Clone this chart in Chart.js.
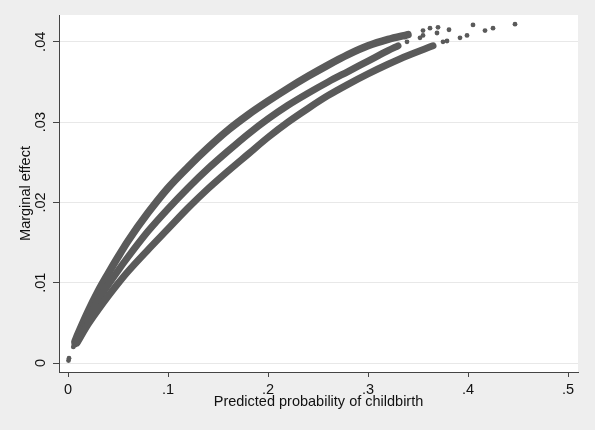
<!DOCTYPE html>
<html lang="en">
<head>
  <meta charset="UTF-8">
  <title>Marginal effect</title>
  <script src="https://cdn.jsdelivr.net/npm/chart.js"></script>
  <style>
    html, body { margin: 0; padding: 0; background: #eeeeee; }
    #wrap { width: 595px; height: 430px; }
  </style>
</head>
<body>
  <div id="wrap"><canvas id="meChart" width="595" height="430"></canvas></div>

  <script>
    // values
    const topX = [0.007, 0.01, 0.02, 0.03, 0.04, 0.05, 0.06, 0.08, 0.10, 0.12, 0.14, 0.16, 0.18, 0.20, 0.22, 0.24, 0.26, 0.28, 0.30, 0.32, 0.34];
    const topY = [0.0027, 0.0036, 0.0064, 0.0089, 0.0111, 0.0132, 0.0152, 0.0187, 0.0218, 0.0244, 0.0268, 0.0290, 0.0309, 0.0326, 0.0342, 0.0357, 0.0371, 0.0384, 0.0395, 0.0403, 0.0409];

    const midX = [0.007, 0.01, 0.02, 0.03, 0.04, 0.05, 0.06, 0.08, 0.10, 0.12, 0.14, 0.16, 0.18, 0.20, 0.22, 0.24, 0.26, 0.28, 0.30, 0.32, 0.33];
    const midY = [0.0024, 0.0031, 0.0056, 0.0078, 0.0097, 0.0115, 0.0132, 0.0164, 0.0192, 0.0218, 0.0242, 0.0264, 0.0285, 0.0304, 0.0321, 0.0336, 0.0350, 0.0363, 0.0376, 0.0389, 0.0395];

    const lowX = [0.009, 0.02, 0.03, 0.04, 0.05, 0.06, 0.08, 0.10, 0.12, 0.14, 0.16, 0.18, 0.20, 0.22, 0.24, 0.26, 0.28, 0.30, 0.32, 0.34, 0.365];
    const lowY = [0.0025, 0.0048, 0.0066, 0.0083, 0.0099, 0.0114, 0.0141, 0.0167, 0.0193, 0.0217, 0.0239, 0.0260, 0.0281, 0.0300, 0.0317, 0.0333, 0.0347, 0.0360, 0.0372, 0.0383, 0.0395];

    // loose points at the ends of the bands
    const dotX = [0.0005, 0.001, 0.0053, 0.334, 0.337, 0.339, 0.339, 0.375, 0.379,
                  0.352, 0.355, 0.355, 0.362, 0.370, 0.369, 0.381, 0.392, 0.399, 0.405, 0.417, 0.425, 0.447];
    const dotY = [0.0003, 0.0006, 0.0020, 0.0408, 0.0406, 0.0410, 0.0400, 0.0400, 0.0401,
                  0.0405, 0.0408, 0.0414, 0.0417, 0.0418, 0.0411, 0.0415, 0.0405, 0.0408, 0.0421, 0.0414, 0.0417, 0.0422];

    const xTicks = [0, 0.1, 0.2, 0.3, 0.4, 0.5];
    const xTickLabels = ['0', '.1', '.2', '.3', '.4', '.5'];
    const yTicks = [0, 0.01, 0.02, 0.03, 0.04];
    const yTickLabels = ['0', '.01', '.02', '.03', '.04'];

    const markColor = '#5a5a5a';
    const fontFamily = '"Liberation Sans", Arial, sans-serif';

    function toPoints(xs, ys) {
      return xs.map((x, i) => ({ x: x, y: ys[i] }));
    }

    function band(xs, ys, w) {
      return {
        data: toPoints(xs, ys),
        showLine: true,
        borderColor: markColor,
        borderWidth: w,
        borderCapStyle: 'round',
        borderJoinStyle: 'round',
        cubicInterpolationMode: 'monotone',
        pointRadius: 0
      };
    }

    // grey page, white plot region, rotated y labels
    const frame = {
      id: 'frame',
      beforeDraw(chart) {
        const { ctx, chartArea: a } = chart;
        ctx.save();
        ctx.fillStyle = '#eeeeee';
        ctx.fillRect(0, 0, chart.width, chart.height);
        ctx.fillStyle = '#ffffff';
        ctx.fillRect(a.left, a.top, a.right - a.left, a.bottom - a.top);
        ctx.restore();
      },
      afterDraw(chart) {
        const { ctx } = chart;
        const y = chart.scales.y;
        ctx.save();
        ctx.fillStyle = '#111111';
        ctx.font = '14.5px ' + fontFamily;
        ctx.textAlign = 'center';
        ctx.textBaseline = 'middle';
        yTicks.forEach((v, i) => {
          ctx.save();
          ctx.translate(41, y.getPixelForValue(v));
          ctx.rotate(-Math.PI / 2);
          ctx.fillText(yTickLabels[i], 0, 0);
          ctx.restore();
        });
        ctx.restore();
      }
    };

    new Chart(document.getElementById('meChart'), {
      type: 'scatter',
      data: {
        datasets: [
          band(lowX, lowY, 7),
          band(midX, midY, 7),
          band(topX, topY, 7.5),
          {
            data: toPoints(dotX, dotY),
            backgroundColor: markColor,
            borderWidth: 0,
            pointRadius: 2.4
          }
        ]
      },
      options: {
        responsive: false,
        animation: false,
        layout: { padding: { left: 0, top: 15, right: 17, bottom: 0 } },
        plugins: { legend: { display: false }, tooltip: { enabled: false } },
        scales: {
          x: {
            type: 'linear',
            min: -0.009,
            max: 0.51,
            afterBuildTicks: (s) => { s.ticks = xTicks.map(v => ({ value: v })); },
            afterFit: (s) => { s.height = 58; },
            ticks: {
              padding: 4,
              color: '#111111',
              font: { family: fontFamily, size: 14.5 },
              maxRotation: 0,
              callback: (v, i) => xTickLabels[i]
            },
            grid: { drawOnChartArea: false, drawTicks: true, tickLength: 5, tickColor: '#444444' },
            border: { display: true, color: '#444444', width: 1 },
            title: {
              display: true,
              text: 'Predicted probability of childbirth',
              color: '#111111',
              font: { family: fontFamily, size: 14.5 },
              padding: { top: 0, bottom: 19 }
            }
          },
          y: {
            type: 'linear',
            min: -0.00112,
            max: 0.04334,
            afterBuildTicks: (s) => { s.ticks = yTicks.map(v => ({ value: v })); },
            afterFit: (s) => { s.width = 59; },
            ticks: { display: false },
            grid: { color: '#e8e8e8', lineWidth: 1, drawTicks: true, tickLength: 6, tickColor: '#444444' },
            border: { display: true, color: '#444444', width: 1 },
            title: {
              display: true,
              text: 'Marginal effect',
              color: '#111111',
              font: { family: fontFamily, size: 14.5 },
              padding: { top: 17, bottom: 0 }
            }
          }
        }
      },
      plugins: [frame]
    });
  </script>
</body>
</html>
